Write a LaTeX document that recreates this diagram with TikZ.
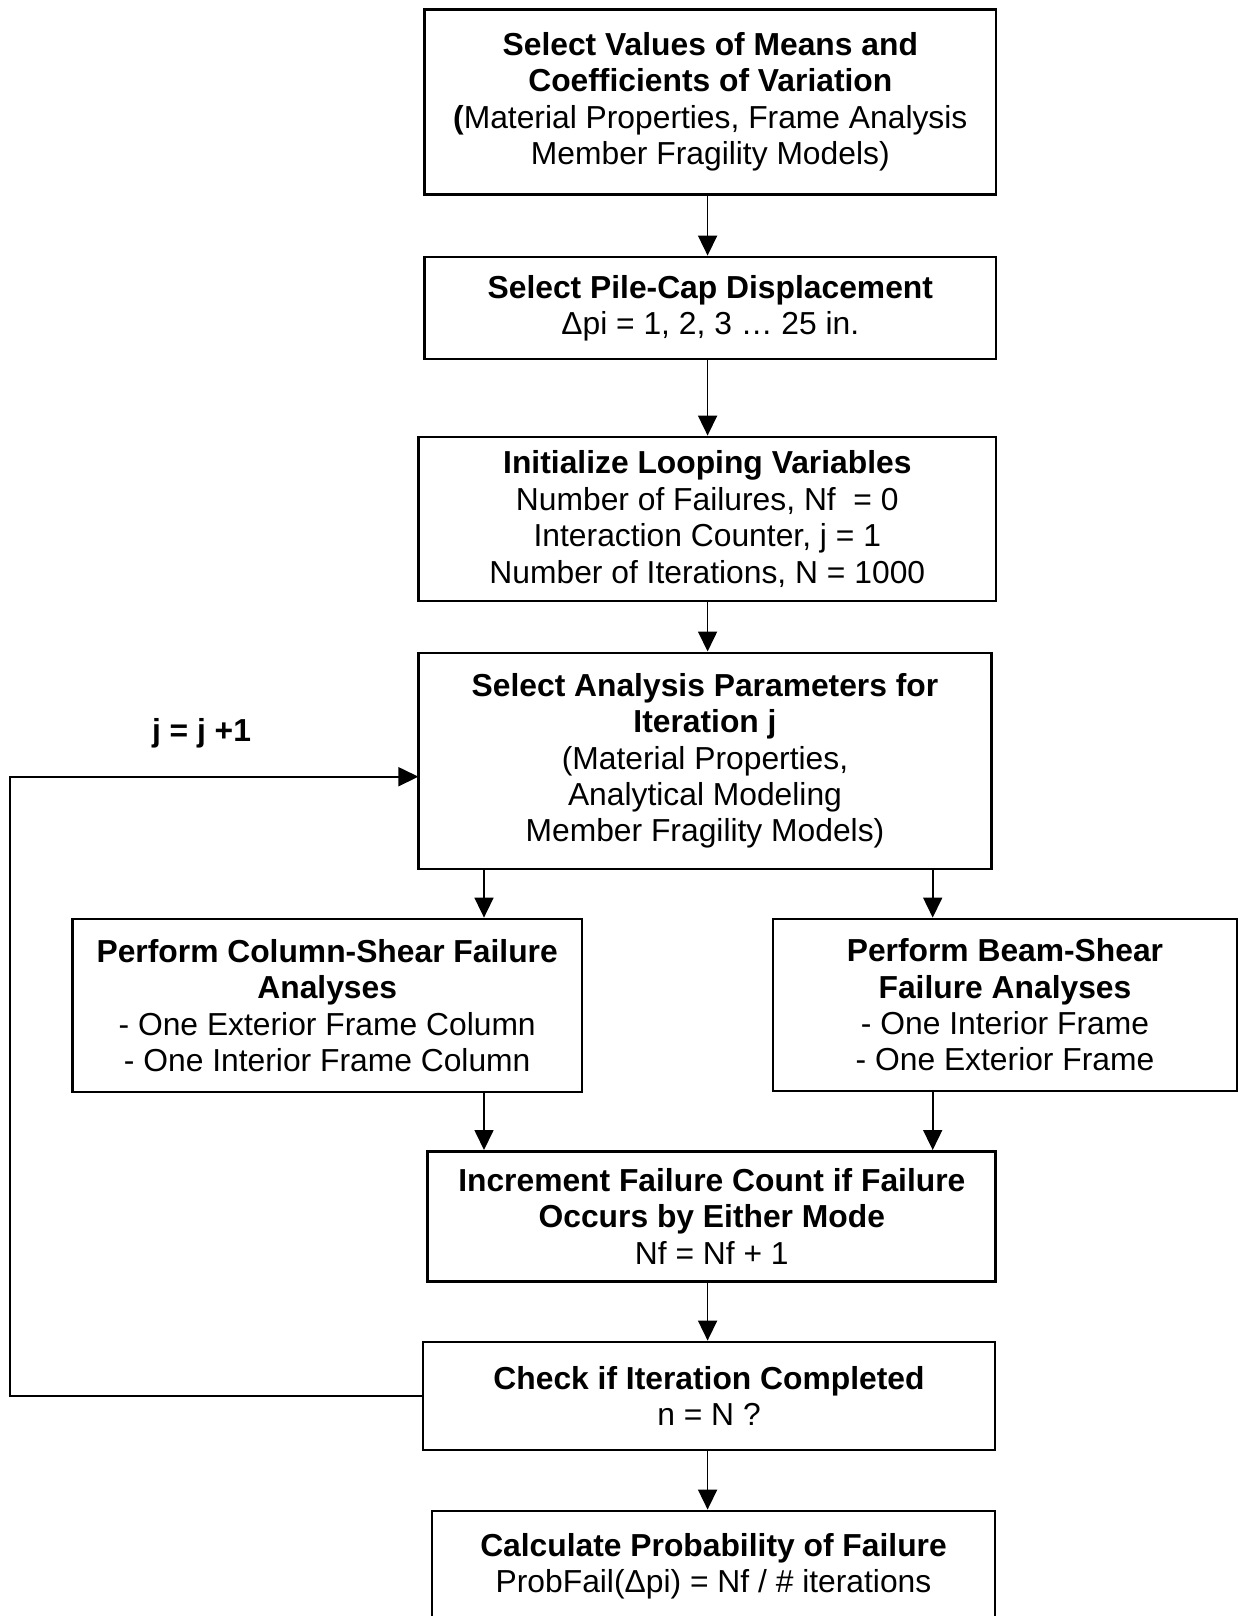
\documentclass[tikz,border=0pt]{standalone}
\usepackage{fontspec}
\setmainfont{Liberation Sans}
\usepackage{tikz}
\usetikzlibrary{positioning,calc,arrows.meta}
\newcommand{\flowfont}{\fontsize{15.9pt}{18.2pt}\selectfont}
\tikzset{%
  flowBox/.style={%
    rectangle,
    draw=black,
    line width=1.4pt,
    inner sep=0pt,
    align=center,
    font=\flowfont
  },
  arrowLine/.style={%
    -{Triangle[length=10pt,width=9.5pt]},
    line width=0.85pt,
    color=black
  }
}

\begin{document}
\begin{tikzpicture}[x=0.5pt,y=-0.5pt]
            \useasboundingbox (0,0) rectangle (1238,1616);
            \coordinate (axis) at (707.6,0);
            \coordinate (leftAxis) at (484,0);
            \coordinate (rightAxis) at (932.7,0);
            \coordinate (loopX) at (10,0);

            \node[flowBox, minimum width=285.7pt, minimum height=92.5pt] (means) at (710.3,101.9)
              {\textbf{Select Values of Means and}\\ \textbf{Coefficients of Variation}\\ \textbf{(}Material Properties, Frame Analysis\\ Member Fragility Models)};
            \node[flowBox, minimum width=285.7pt, minimum height=51pt] (pileCap) at (710.3,308)
              {\textbf{Select Pile-Cap Displacement}\\ Δpi = 1, 2, 3 … 25 in.};
            \node[flowBox, minimum width=288.7pt, minimum height=82pt] (init) at (707.3,519)
              {\textbf{Initialize Looping Variables}\\ Number of Failures, Nf~ = 0\\ Interaction Counter, j = 1\\ Number of Iterations, N = 1000};
            \node[flowBox, minimum width=286.6pt, minimum height=108pt] (params) at (705,760.9)
              {\textbf{Select Analysis Parameters for}\\ \textbf{Iteration j}\\ (Material Properties,\\ Analytical Modeling\\ Member Fragility Models)};
            \node[flowBox, minimum width=254.8pt, minimum height=86.5pt] (column) at (327.2,1005.5)
              {\textbf{Perform Column-Shear Failure}\\ \textbf{Analyses}\\ - One Exterior Frame Column\\ - One Interior Frame Column};
            \node[flowBox, minimum width=232pt, minimum height=86pt] (beam) at (1005,1005)
              {\textbf{Perform Beam-Shear}\\ \textbf{Failure Analyses}\\ - One Interior Frame\\ - One Exterior Frame};
            \node[flowBox, minimum width=284pt, minimum height=65pt] (count) at (711.8,1216.4)
              {\textbf{Increment Failure Count if Failure}\\ \textbf{Occurs by Either Mode}\\ Nf = Nf + 1};
            \node[flowBox, minimum width=286pt, minimum height=54pt] (check) at (709,1396)
              {\textbf{Check if Iteration Completed}\\ n = N ?};
            \node[flowBox, minimum width=281.5pt, minimum height=55pt] (probFail) at (713.5,1566)
              {\textbf{Calculate Probability of Failure}\\ ProbFail(Δpi) = Nf / \# iterations};
            \node[font=\flowfont\bfseries] (increment) at (201.5,733) {j = j +1};
            \coordinate (loopIn) at (418.4,776.7);

            \draw[arrowLine] (means.south -| axis) -- (pileCap.north -| axis);
            \draw[arrowLine] (pileCap.south -| axis) -- (init.north -| axis);
            \draw[arrowLine] (init.south -| axis) -- (params.north -| axis);
            \draw[arrowLine] (params.south -| leftAxis) -- (column.north -| leftAxis);
            \draw[arrowLine] (params.south -| rightAxis) -- (beam.north -| rightAxis);
            \draw[arrowLine] (column.south -| leftAxis) -- (count.north -| leftAxis);
            \draw[arrowLine] (beam.south -| rightAxis) -- (count.north -| rightAxis);
            \draw[arrowLine] (count.south -| axis) -- (check.north -| axis);
            \draw[arrowLine] (check.south -| axis) -- (probFail.north -| axis);
            \draw[arrowLine] (check.west) -- (check.west -| loopX) |- (loopIn);
        \end{tikzpicture}
\end{document}
